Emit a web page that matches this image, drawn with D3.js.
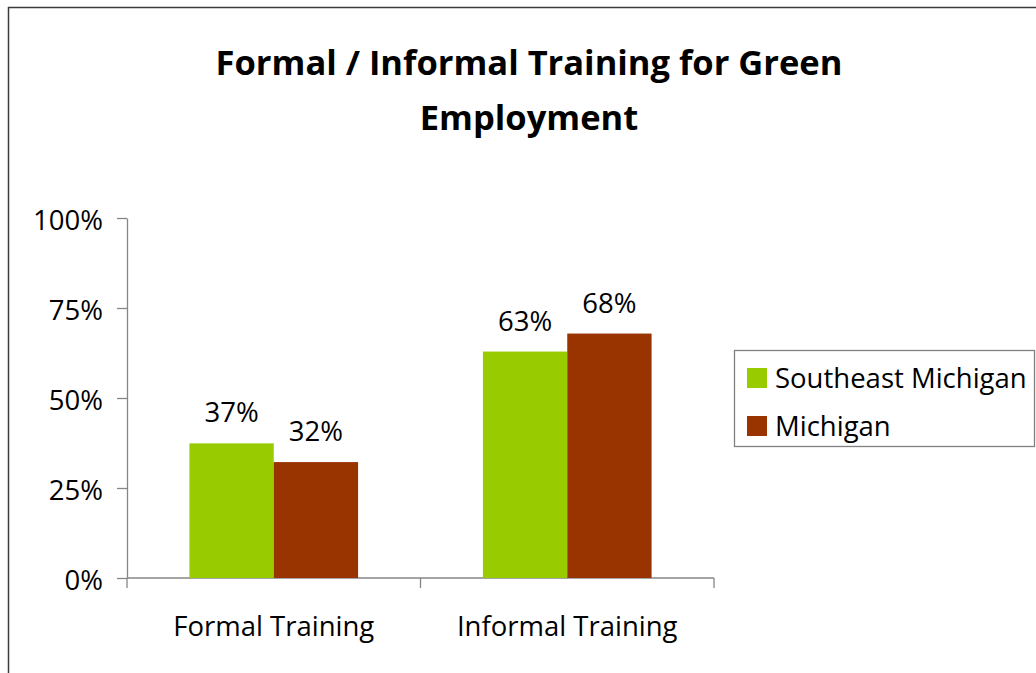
<!DOCTYPE html>
<html>
<head>
<meta charset="utf-8">
<script src="https://cdn.jsdelivr.net/npm/d3@7"></script>
<style>
  body { margin: 0; background: #fff; }
  text { font-family: "Open Sans", sans-serif; fill: #000; }
</style>
</head>
<body>
<svg id="chart" width="1036" height="673"></svg>
<script>
// data
const categories = ["Formal Training", "Informal Training"];
const seriesNames = ["Southeast Michigan", "Michigan"];
const seMichiganValues = [0.374, 0.629];
const michiganValues = [0.322, 0.679];
const yTicks = [0, 0.25, 0.5, 0.75, 1];
const titleLines = ["Formal / Informal Training for Green", "Employment"];

const colors = ["#99cc00", "#993300"];
const fmt = d3.format(".0%");
const FONT = "\"Open Sans\", sans-serif";
const LABEL_SIZE = "27.5px";

const svg = d3.select("#chart");

// outer frame (only the left and top edges are visible)
svg.append("path")
    .attr("d", "M8.5,673 V7.5 H1036")
    .attr("fill", "none")
    .attr("stroke", "#3c3c3c")
    .attr("stroke-width", 1.5);

// title
svg.append("g")
    .selectAll("text")
    .data(titleLines)
    .enter()
    .append("text")
    .attr("x", 529)
    .attr("y", (d, i) => 75 + i * 55)
    .attr("text-anchor", "middle")
    .style("font-size", "34.5px")
    .style("font-weight", "bold")
    .text(d => d);

const plot = { left: 127, right: 714, top: 218, bottom: 578 };

const x0 = d3.scaleBand().domain(categories).range([plot.left, plot.right]);
const x1 = d3.scaleBand().domain(seriesNames).range([0, x0.bandwidth()]).paddingOuter(0.74);
const y = d3.scaleLinear().domain([0, 1]).range([plot.bottom, plot.top]);

const rows = categories.map((c, i) => ({
    category: c,
    values: [seMichiganValues[i], michiganValues[i]]
}));

// y axis
const yAxis = d3.axisLeft(y).tickValues(yTicks).tickFormat(fmt).tickSize(10).tickSizeOuter(0).tickPadding(14);
const gy = svg.append("g")
    .attr("transform", `translate(${plot.left},0)`)
    .call(yAxis);
gy.selectAll("line, path").attr("stroke", "#868686").attr("stroke-width", 1.3);
gy.selectAll("text")
    .attr("dy", "0.43em")
    .style("font-size", LABEL_SIZE)
    .style("font-family", FONT)
    .attr("fill", "#000");

// x axis baseline and boundary ticks
svg.append("line")
    .attr("x1", plot.left).attr("x2", plot.right)
    .attr("y1", y(0)).attr("y2", y(0))
    .attr("stroke", "#868686").attr("stroke-width", 1.3);

const bounds = categories.map(c => x0(c)).concat([x0(categories[categories.length - 1]) + x0.bandwidth()]);
svg.append("g")
    .selectAll("line")
    .data(bounds)
    .enter()
    .append("line")
    .attr("x1", d => d).attr("x2", d => d)
    .attr("y1", y(0)).attr("y2", y(0) + 10)
    .attr("stroke", "#868686").attr("stroke-width", 1.3);

svg.append("g")
    .selectAll("text")
    .data(categories)
    .enter()
    .append("text")
    .attr("x", d => x0(d) + x0.bandwidth() / 2)
    .attr("y", y(0) + 58)
    .attr("text-anchor", "middle")
    .style("font-size", LABEL_SIZE)
    .text(d => d);

// bars
const groups = svg.append("g")
    .selectAll("g")
    .data(rows)
    .enter()
    .append("g")
    .attr("transform", d => `translate(${x0(d.category)},0)`);

groups.selectAll("rect")
    .data(d => d.values.map((v, i) => ({ name: seriesNames[i], value: v, idx: i })))
    .enter()
    .append("rect")
    .attr("x", d => x1(d.name))
    .attr("width", x1.bandwidth())
    .attr("y", d => y(d.value))
    .attr("height", d => y(0) - y(d.value))
    .attr("fill", d => colors[d.idx]);

groups.selectAll("text")
    .data(d => d.values.map((v, i) => ({ name: seriesNames[i], value: v })))
    .enter()
    .append("text")
    .attr("x", d => x1(d.name) + x1.bandwidth() / 2)
    .attr("y", d => y(d.value) - 21)
    .attr("text-anchor", "middle")
    .style("font-size", LABEL_SIZE)
    .text(d => fmt(d.value));

// legend
const legend = svg.append("g").attr("transform", "translate(734,350)");
legend.append("rect")
    .attr("x", 0.5).attr("y", 0.5)
    .attr("width", 300).attr("height", 96)
    .attr("fill", "#fff")
    .attr("stroke", "#808080")
    .attr("stroke-width", 1.3);

const items = legend.selectAll("g.item")
    .data(seriesNames)
    .enter()
    .append("g")
    .attr("class", "item")
    .attr("transform", (d, i) => `translate(13,${18 + i * 48})`);

items.append("rect")
    .attr("width", 20).attr("height", 20)
    .attr("fill", (d, i) => colors[i]);

items.append("text")
    .attr("x", 28)
    .attr("y", 20)
    .style("font-size", LABEL_SIZE)
    .text(d => d);
</script>
</body>
</html>
